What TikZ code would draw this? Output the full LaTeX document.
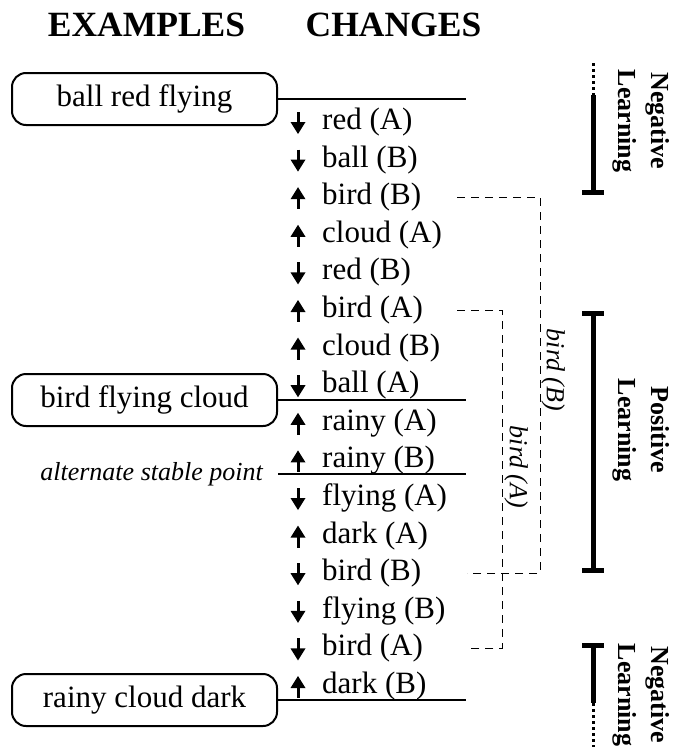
\documentclass[tikz,border=0pt]{standalone}
\usepackage{fontspec}
\setmainfont{Liberation Serif}
\begin{document}
\begin{tikzpicture}[x=1pt,y=-1pt,
  row/.style={anchor=west,inner sep=0pt,font=\fontsize{31}{37}\selectfont},
  ex/.style={draw,line width=2pt,rounded corners=14pt,minimum width=265pt,minimum height=52pt,inner sep=0pt,font=\fontsize{31}{37}\selectfont},
  head/.style={font=\fontsize{35.5}{40}\selectfont\bfseries},
  side/.style={rotate=-90,align=center,font=\fontsize{26}{33}\selectfont\bfseries},
  tag/.style={rotate=-90,font=\fontsize{26}{30}\selectfont\itshape,inner sep=0pt},
  sep/.style={line width=2pt},
  link/.style={line width=1pt,dash pattern=on 8pt off 6pt},
  brace/.style={line width=5pt},
  dots/.style={line width=3pt,dash pattern=on 3pt off 3pt},
  dnarr/.pic={\draw[line width=3pt] (0,-10) -- (0,2); \fill (-7.5,0) -- (7.5,0) -- (0,12) -- cycle;},
  uparr/.pic={\draw[line width=3pt] (0,0) -- (0,12); \fill (-7.5,2) -- (7.5,2) -- (0,-10) -- cycle;}]
\useasboundingbox (0,0) rectangle (675,747);
\fill[white] (0,0) rectangle (675,747);

% headers
\node[head] (hx) at (146.5,25) {EXAMPLES};
\node[head] (hc) at (393.5,25) {CHANGES};

% example boxes
\node[ex] (b1) at (144.5,99) {ball red flying};
\node[ex] (b2) at (144.5,400) {bird flying cloud};
\node[ex] (b3) at (144.5,700) {rainy cloud dark};

\coordinate (rend) at (466,0);
\coordinate (ax) at (298,0);

% change rows
\node[row] (r1) at (322,122) {red (A)};
\node[row] (r2) at (322,159.6) {ball (B)};
\node[row] (r3) at (322,197.2) {bird (B)};
\node[row] (r4) at (322,234.8) {cloud (A)};
\node[row] (r5) at (322,272.4) {red (B)};
\node[row] (r6) at (322,310) {bird (A)};
\node[row] (r7) at (322,347.6) {cloud (B)};
\node[row] (r8) at (322,385.2) {ball (A)};
\node[row] (r9) at (322,422.8) {rainy (A)};
\node[row] (r10) at (322,460.4) {rainy (B)};
\node[row] (r11) at (322,498) {flying (A)};
\node[row] (r12) at (322,535.6) {dark (A)};
\node[row] (r13) at (322,573.2) {bird (B)};
\node[row] (r14) at (322,610.8) {flying (B)};
\node[row] (r15) at (322,648.4) {bird (A)};
\node[row] (r16) at (322,686) {dark (B)};

\foreach \i in {1,2,5,8,11,13,14,15} \pic at (r\i.west -| ax) {dnarr};
\foreach \i in {3,4,6,7,9,10,12,16} \pic at (r\i.west -| ax) {uparr};

% separator lines
\draw[sep] (b1.east) -- (b1.east -| rend);
\draw[sep] (b2.east) -- (b2.east -| rend);
\draw[sep] (b3.east) -- (b3.east -| rend);
\node[anchor=east,inner sep=0pt,font=\fontsize{26}{30}\selectfont\itshape] (asp) at (263,474) {alternate stable point};
\draw[sep] (asp.east -| b2.east) -- (asp.east -| rend);

% dashed links
\coordinate (dl) at (457,0);
\coordinate (dr) at (467,0);
\coordinate (vB) at (540,0);
\coordinate (vA) at (502,0);
\draw[link] (r3.west -| dl) -| (vB |- r13.west) -- (r13.west -| dr);
\draw[link] (r6.west -| dl) -| (vA |- r15.west) -- (r15.west -| dr);
\node[tag] (tB) at (553,370) {bird (B)};
\node[tag] (tA) at (516,467) {bird (A)};

% learning brackets
\draw[dots] (593,63) -- (593,95);
\draw[brace] (593,95) -- (593,192) (582,192) -- (604,192);
\draw[brace] (582,313) -- (604,313) (593,313) -- (593,570) (582,570) -- (604,570);
\draw[brace] (582,645) -- (604,645) (593,645) -- (593,703);
\draw[dots] (593,703) -- (593,747);

\node[side] (n1) at (641,121) {Negative\\Learning};
\node[side] (n2) at (641,430) {Positive\\Learning};
\node[side] (n3) at (641,695) {Negative\\Learning};
\end{tikzpicture}
\end{document}
